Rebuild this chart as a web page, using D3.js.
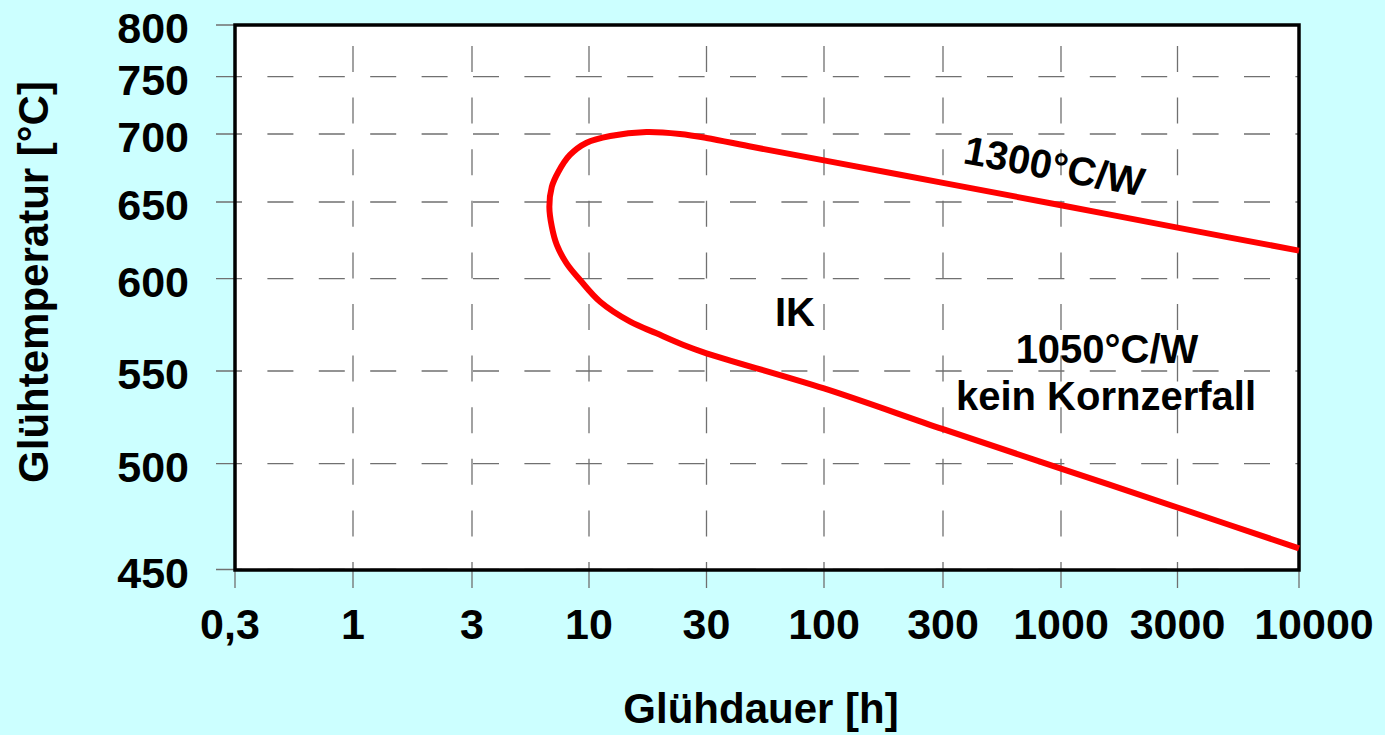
<!DOCTYPE html>
<head>
  <meta charset="utf-8">
  <script src="https://d3js.org/d3.v7.min.js"></script>
  <style>
    body { margin: 0; background: #ccffff; }
    text {
      font-family: "Liberation Sans", Arial, sans-serif;
      font-weight: bold;
      fill: #000;
    }
  </style>
</head>

<body>
  <script>
    // tick values / labels
    var xTicks = [0.3, 1, 3, 10, 30, 100, 300, 1000, 3000, 10000];
    var xTickLabels = ["0,3", "1", "3", "10", "30", "100", "300", "1000", "3000", "10000"];
    var yTicks = [800, 750, 700, 650, 600, 550, 500, 450];

    // curve: upper end -> nose -> lower end
    var hours = [10000, 3000, 1000, 300, 100, 48.3, 30, 23.4, 17.1, 12.2, 9.76, 8.22, 7.3, 6.82, 6.65,
                 6.82, 7.18, 7.94, 9.12, 11.1, 14.7, 18.8, 24.2, 30, 100, 300, 1000, 3000, 10000];
    var temps = [618.3, 633.3, 647.9, 664.1, 680.6, 690.4, 697.1, 700, 701.7, 698.5, 693.6, 684.6, 672.3, 661.2, 646.9,
                 633.9, 622, 610, 599.3, 587.5, 576.7, 570.4, 564.1, 559.6, 540.6, 518.6, 497.7, 479.3, 460];

    var width = 1385, height = 735;
    var plot = {left: 235, right: 1299, top: 25, bottom: 570};

    // the axes are not regular: ticks sit at these pixel stops
    var xStops = [235, 353, 472, 589, 706.5, 824, 943, 1061, 1177.5, 1299];
    var yStops = [25, 76.7, 134, 202, 278.7, 371, 463.7, 569.5];

    var x = d3.scaleLog().domain(xTicks).range(xStops);
    var y = d3.scaleLinear().domain(yTicks).range(yStops);

    var svg = d3.select("body").append("svg")
        .attr("width", width)
        .attr("height", height);

    svg.append("rect")
        .attr("width", width)
        .attr("height", height)
        .attr("fill", "#ccffff");

    svg.append("rect")
        .attr("x", plot.left)
        .attr("y", plot.top)
        .attr("width", plot.right - plot.left)
        .attr("height", plot.bottom - plot.top)
        .attr("fill", "#fff");

    // dashed grid; first dash doubles as the tick mark
    svg.append("g").selectAll("line")
      .data(yTicks)
      .enter().append("line")
        .attr("x1", plot.left - 19)
        .attr("x2", plot.right)
        .attr("y1", y)
        .attr("y2", y)
        .attr("stroke", "#707070")
        .attr("stroke-width", 1.3)
        .attr("stroke-dasharray", "26 25.4");

    svg.append("g").selectAll("line")
      .data(xTicks)
      .enter().append("line")
        .attr("x1", x)
        .attr("x2", x)
        .attr("y1", plot.bottom + 18)
        .attr("y2", plot.top)
        .attr("stroke", "#707070")
        .attr("stroke-width", 1.3)
        .attr("stroke-dasharray", "26 25.6");

    svg.append("rect")
        .attr("x", plot.left)
        .attr("y", plot.top)
        .attr("width", plot.right - plot.left)
        .attr("height", plot.bottom - plot.top)
        .attr("fill", "none")
        .attr("stroke", "#000")
        .attr("stroke-width", 3.5);

    var line = d3.line()
        .x(function(d) { return x(d[0]); })
        .y(function(d) { return y(d[1]); })
        .curve(d3.curveCatmullRom.alpha(0.5));

    svg.append("path")
        .datum(d3.zip(hours, temps))
        .attr("fill", "none")
        .attr("stroke", "#ff0000")
        .attr("stroke-width", 6)
        .attr("stroke-linejoin", "round")
        .attr("d", line);

    // tick labels
    svg.append("g").selectAll("text")
      .data(yTicks)
      .enter().append("text")
        .attr("x", 189)
        .attr("y", y)
        .attr("dy", "0.43em")
        .attr("text-anchor", "end")
        .style("font-size", "43px")
        .text(function(d) { return d; });

    var lastX = xTicks.length - 1;
    svg.append("g").selectAll("text")
      .data(xTicks)
      .enter().append("text")
        .attr("x", x)
        .attr("y", 639)
        .attr("dx", function(d, i) { return i == lastX ? 15 : (i == 0 ? -5 : 0); })
        .attr("text-anchor", "middle")
        .style("font-size", "43px")
        .text(function(d, i) { return xTickLabels[i]; });

    // axis titles
    svg.append("text")
        .attr("x", 761)
        .attr("y", 723)
        .attr("text-anchor", "middle")
        .style("font-size", "42px")
        .text("Glühdauer [h]");

    svg.append("text")
        .attr("transform", "translate(48,282)rotate(-90)")
        .attr("text-anchor", "middle")
        .style("font-size", "42px")
        .text("Glühtemperatur [°C]");

    // annotations
    svg.append("text")
        .attr("transform", "translate(962,163)rotate(10.5)")
        .style("font-size", "40px")
        .text("1300°C/W");

    svg.append("text")
        .attr("x", 795)
        .attr("y", 326)
        .attr("text-anchor", "middle")
        .style("font-size", "40px")
        .text("IK");

    svg.append("text")
        .attr("x", 1107)
        .attr("y", 363)
        .attr("text-anchor", "middle")
        .style("font-size", "40px")
        .text("1050°C/W");

    svg.append("text")
        .attr("x", 1106)
        .attr("y", 410)
        .attr("text-anchor", "middle")
        .style("font-size", "40px")
        .text("kein Kornzerfall");
  </script>
</body>
